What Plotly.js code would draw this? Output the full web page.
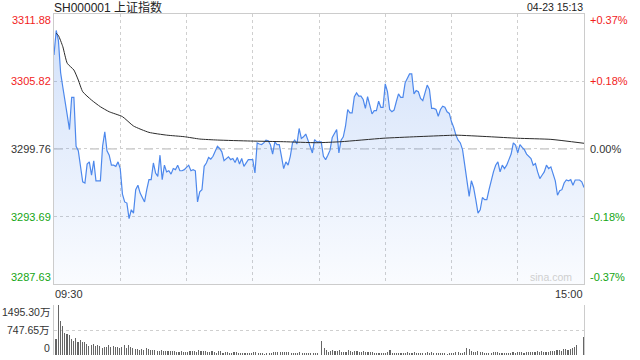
<!DOCTYPE html>
<html>
<head>
<meta charset="utf-8">
<script src="https://cdn.plot.ly/plotly-3.0.1.min.js"></script>
<style>html,body{margin:0;padding:0;background:#fff;}#chart{width:640px;height:360px;}</style>
</head>
<body>
<div id="chart"></div>
<script>
// ---- data ----
const titleText = 'SH000001 上证指数';
const dateText = '04-23 15:13';
const timeLabels = ['09:30', '15:00'];
const prevClose = 3299.76;
const leftTickVals = [3287.63, 3293.69, 3299.76, 3305.82, 3311.88];
const leftTickText = ['3287.63', '3293.69', '3299.76', '3305.82', '3311.88'];
const rightTickText = ['-0.37%', '-0.18%', '0.00%', '+0.18%', '+0.37%'];
const volTickVals = [0, 747.65, 1495.30];
const volTickText = ['0', '747.65万', '1495.30万'];

// minute-by-minute index price, 09:30 .. 11:30, 13:01 .. 15:00 (241 points)
const prices = [
  3308.2, 3310.4, 3309.5, 3306.6, 3305.3, 3304.2, 3302.8, 3301.5, 3304.4, 3304.4,
  3300.0, 3299.6, 3298.3, 3296.8, 3296.7, 3298.4, 3298.6, 3297.4, 3298.7, 3296.9,
  3296.9, 3296.9, 3300.0, 3301.3, 3299.6, 3299.2, 3298.3, 3298.3, 3298.2, 3298.6,
  3298.0, 3295.7, 3295.0, 3294.9, 3293.5, 3294.3, 3294.0, 3296.1, 3296.5, 3295.8,
  3295.4, 3295.0, 3296.1, 3297.0, 3297.0, 3298.5, 3297.6, 3297.3, 3299.2, 3297.0,
  3298.3, 3297.7, 3297.8, 3297.5, 3298.0, 3297.9, 3298.3, 3297.8, 3297.8, 3297.9,
  3298.1, 3298.3, 3297.8, 3297.9, 3297.8, 3295.0, 3295.9, 3296.1, 3298.2, 3298.5,
  3299.0, 3298.85, 3299.1, 3299.5, 3300.0, 3299.8, 3299.5, 3298.7, 3298.9, 3299.05,
  3298.8, 3298.9, 3298.55, 3299.0, 3298.4, 3298.9, 3298.2, 3298.5, 3298.8, 3298.8,
  3298.8, 3297.6, 3300.3, 3300.2, 3300.15, 3300.3, 3300.55, 3300.5, 3300.15, 3299.3,
  3300.4, 3300.15, 3300.15, 3299.1, 3298.0, 3298.6, 3298.3, 3299.1, 3300.3, 3300.55,
  3300.2, 3301.6, 3300.7, 3300.85, 3301.1, 3300.55, 3300.05, 3299.4, 3300.6, 3300.4,
  3300.4, 3300.4, 3299.1, 3298.8, 3299.2, 3299.65, 3300.8, 3301.15, 3301.5, 3299.4,
  3300.55, 3300.85, 3301.8, 3303.3, 3303.0, 3303.0, 3304.45, 3304.8, 3304.5, 3304.5,
  3304.2, 3303.4, 3304.45, 3303.7, 3302.9, 3303.2, 3303.2, 3304.05, 3303.5, 3303.5,
  3305.6, 3304.9, 3303.3, 3303.1, 3303.25, 3304.0, 3304.7, 3304.4, 3304.4, 3305.7,
  3306.1, 3306.5, 3306.5, 3304.7, 3305.0, 3304.9, 3304.3, 3304.1, 3304.8, 3305.5,
  3305.1, 3303.4, 3303.4, 3303.3, 3302.7, 3303.3, 3303.6, 3303.5, 3303.1, 3302.95,
  3302.2, 3301.7, 3301.0, 3300.55, 3300.3, 3299.7, 3298.3, 3296.7, 3295.5, 3296.9,
  3296.3, 3295.2, 3294.0, 3294.3, 3295.4, 3295.2, 3295.2, 3296.1, 3297.0, 3297.7,
  3298.3, 3298.6, 3297.7, 3298.3, 3298.0, 3298.3, 3298.8, 3299.3, 3300.3, 3300.1,
  3299.4, 3300.15, 3299.9, 3299.7, 3299.3, 3299.05, 3298.9, 3298.3, 3298.45, 3297.7,
  3297.1, 3297.4, 3297.7, 3298.3, 3298.0, 3298.15, 3297.4, 3296.9, 3295.6, 3296.0,
  3296.1, 3296.7, 3296.97, 3296.9, 3297.0, 3296.5, 3296.97, 3296.97, 3296.97, 3296.8,
  3296.3
];

// average price line, read at these minute indices
const avgMinute = [1, 2, 4, 6, 9, 11, 13, 17, 21, 25, 31, 36, 43, 51, 59, 66, 74, 89, 104, 119, 130, 149, 164, 179, 182, 197, 210, 225, 240];
const avgValues = [3310.15, 3309.95, 3308.94, 3307.45, 3306.85, 3305.95, 3304.9, 3304.15, 3303.55, 3303.1, 3302.66, 3301.82, 3301.25, 3301.0, 3300.86, 3300.65, 3300.56, 3300.47, 3300.41, 3300.32, 3300.41, 3300.72, 3300.86, 3300.98, 3301.0, 3300.86, 3300.72, 3300.62, 3300.27];

// volume per minute (万), 241 bars
const volumes = [
  465, 1495.3, 1010, 860, 657, 616, 596, 465, 414, 495,
  374, 435, 374, 374, 343, 283, 313, 343, 283, 313,
  283, 222, 252, 252, 313, 252, 283, 252, 252, 222,
  252, 313, 222, 313, 252, 222, 192, 192, 162, 192,
  162, 222, 192, 162, 162, 162, 131, 131, 162, 131,
  131, 131, 131, 131, 131, 101, 101, 131, 101, 101,
  101, 131, 131, 131, 101, 162, 131, 131, 131, 101,
  101, 131, 101, 71, 131, 131, 71, 101, 101, 71,
  71, 101, 101, 71, 71, 71, 71, 71, 71, 71,
  101, 101, 71, 71, 71, 40, 71, 71, 71, 101,
  101, 101, 101, 101, 101, 101, 101, 71, 71, 71,
  71, 101, 71, 71, 71, 71, 71, 71, 71, 71,
  10, 404, 222, 162, 101, 131, 162, 131, 131, 162,
  101, 101, 101, 162, 131, 101, 131, 131, 101, 101,
  131, 101, 101, 101, 101, 71, 71, 71, 71, 71,
  71, 101, 162, 71, 71, 71, 71, 71, 71, 71,
  101, 71, 71, 101, 71, 71, 71, 71, 71, 101,
  71, 101, 71, 71, 71, 71, 71, 71, 40, 71,
  71, 71, 101, 101, 71, 71, 101, 222, 192, 131,
  101, 101, 131, 101, 101, 71, 71, 71, 71, 101,
  101, 101, 71, 71, 71, 71, 71, 71, 101, 71,
  101, 101, 101, 71, 101, 101, 101, 101, 101, 131,
  101, 131, 101, 101, 101, 131, 131, 131, 162, 162,
  131, 192, 192, 162, 192, 222, 252, 313, 8, 12,
  525
];

// ---- chart ----
const FONT = 'Arial, "Liberation Sans", "Noto Sans CJK SC", sans-serif';
const RED = '#f21d1d', GREEN = '#14a514', DARK = '#333333';
const minutes = prices.map((_, i) => i);
const volIdx = volumes.map((_, i) => i);
const totalMinutes = prices.length - 1;
const yRange = [leftTickVals[0], leftTickVals[leftTickVals.length - 1]];
const gridMinutes = [];
for (let m = 30; m < totalMinutes; m += 30) gridMinutes.push(m);

const traces = [
  {
    x: minutes, y: prices, type: 'scatter', mode: 'lines',
    line: { color: '#4d88ec', width: 1.2 },
    fill: 'tozeroy',
    fillgradient: {
      type: 'vertical', start: yRange[0], stop: yRange[1],
      colorscale: [[0, 'rgba(77,136,236,0.03)'], [1, 'rgba(77,136,236,0.26)']]
    },
    xaxis: 'x', yaxis: 'y', hoverinfo: 'skip'
  },
  {
    x: avgMinute, y: avgValues, type: 'scatter', mode: 'lines',
    line: { color: '#2b2b2b', width: 1, shape: 'spline', smoothing: 0.5 },
    xaxis: 'x', yaxis: 'y', hoverinfo: 'skip'
  },
  {
    x: volIdx, y: volumes, type: 'bar', width: 0.5,
    marker: { color: '#666666', line: { width: 0 } },
    xaxis: 'x2', yaxis: 'y2', hoverinfo: 'skip'
  }
];

const annotations = [];
const colorFor = v => (v > prevClose + 0.001 ? RED : (v < prevClose - 0.001 ? GREEN : DARK));
leftTickVals.forEach((v, i) => {
  const shift = i === 0 ? 7 : (i === leftTickVals.length - 1 ? -6 : 0);
  annotations.push({
    text: leftTickText[i], xref: 'paper', x: 0, xanchor: 'right', xshift: -1,
    yref: 'y', y: v, yanchor: 'middle', yshift: shift, showarrow: false,
    font: { family: FONT, size: 11, color: colorFor(v) }
  });
  annotations.push({
    text: rightTickText[i], xref: 'paper', x: 1, xanchor: 'left', xshift: 4,
    yref: 'y', y: v, yanchor: 'middle', yshift: shift, showarrow: false,
    font: { family: FONT, size: 11, color: colorFor(v) }
  });
});
volTickVals.forEach((v, i) => {
  const shift = i === 0 ? 7 : (i === volTickVals.length - 1 ? -6.5 : 0);
  annotations.push({
    text: volTickText[i], xref: 'paper', x: 0, xanchor: 'right', xshift: -2,
    yref: 'y2', y: v, yanchor: 'middle', yshift: shift, showarrow: false,
    font: { family: FONT, size: 10.5, color: DARK }
  });
});
annotations.push({
  text: timeLabels[0], xref: 'paper', x: 0, xanchor: 'left', xshift: -1,
  yref: 'y domain', y: 0, yanchor: 'top', yshift: -2, showarrow: false,
  font: { family: FONT, size: 11, color: DARK }
});
annotations.push({
  text: timeLabels[1], xref: 'paper', x: 1, xanchor: 'right', xshift: 1,
  yref: 'y domain', y: 0, yanchor: 'top', yshift: -2, showarrow: false,
  font: { family: FONT, size: 11, color: DARK }
});
annotations.push({
  text: dateText, xref: 'paper', x: 1, xanchor: 'right', xshift: 1,
  yref: 'y domain', y: 1, yanchor: 'bottom', yshift: -1, showarrow: false,
  font: { family: FONT, size: 10.5, color: '#222' }
});
annotations.push({
  text: 'sina.com', xref: 'paper', x: 1, xanchor: 'right', xshift: -10,
  yref: 'y domain', y: 0, yanchor: 'bottom', yshift: -1, showarrow: false,
  font: { family: FONT, size: 10.5, color: '#cfcfcf' }
});

const layout = {
  width: 640, height: 360,
  margin: { l: 54, r: 56, t: 14, b: 5, pad: 0 },
  paper_bgcolor: '#ffffff', plot_bgcolor: '#ffffff',
  showlegend: false, hovermode: false,
  title: {
    text: titleText, xref: 'paper', x: 0, xanchor: 'left',
    yref: 'container', y: 0.979, yanchor: 'middle',
    font: { family: FONT, size: 12, color: '#222' }
  },
  xaxis: {
    domain: [0, 1], anchor: 'y', range: [0, totalMinutes],
    tickvals: gridMinutes, showticklabels: false, ticks: '',
    showgrid: true, gridcolor: '#cfcfcf', griddash: 'dot', gridwidth: 1,
    showline: true, mirror: true, linecolor: '#cccccc', linewidth: 1, zeroline: false
  },
  yaxis: {
    domain: [0.2082, 1], anchor: 'x', range: yRange,
    tickvals: leftTickVals, showticklabels: false, ticks: '',
    showgrid: true, gridcolor: '#cfcfcf', griddash: 'dot', gridwidth: 1,
    showline: true, mirror: true, linecolor: '#cccccc', linewidth: 1, zeroline: false
  },
  xaxis2: {
    domain: [0, 1], anchor: 'y2', range: [-0.9, totalMinutes + 0.3],
    showticklabels: false, ticks: '', showgrid: false, showline: false, zeroline: false
  },
  yaxis2: {
    domain: [0, 0.1466], anchor: 'x2', range: [0, volTickVals[volTickVals.length - 1]],
    tickvals: volTickVals, showticklabels: false, ticks: '',
    showgrid: true, gridcolor: '#cfcfcf', griddash: 'dot', gridwidth: 1,
    showline: true, mirror: true, linecolor: '#cccccc', linewidth: 1, zeroline: false
  },
  bargap: 0,
  shapes: [{
    type: 'line', xref: 'x domain', x0: 0, x1: 1, yref: 'y', y0: prevClose, y1: prevClose,
    line: { color: '#b5b5b5', width: 1, dash: 'dash' }, layer: 'below'
  }],
  annotations: annotations
};

Plotly.newPlot('chart', traces, layout, { staticPlot: true, displayModeBar: false });
</script>
</body>
</html>
